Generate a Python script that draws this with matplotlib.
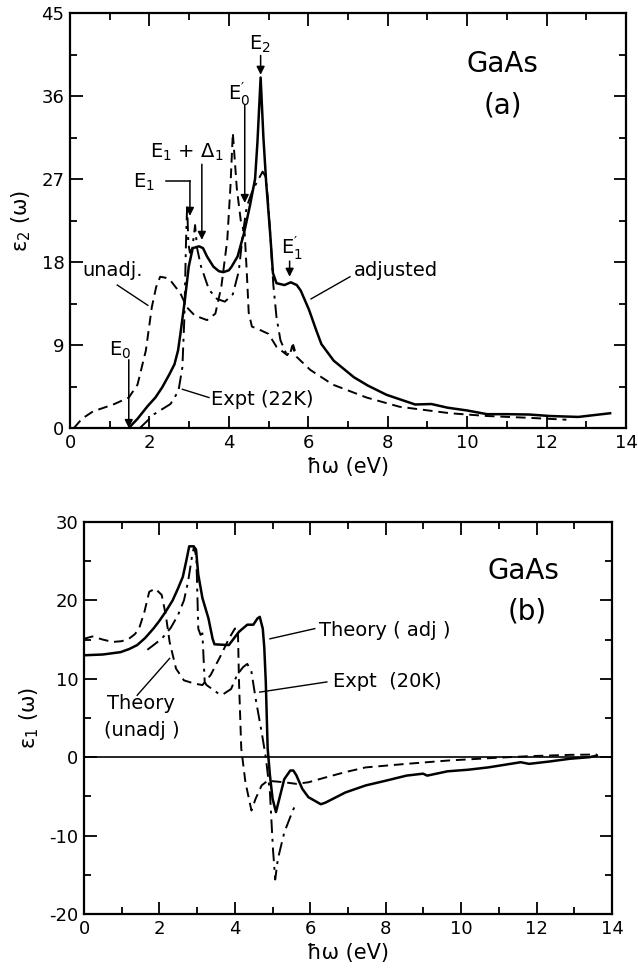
import matplotlib
matplotlib.use("Agg")
import matplotlib.pyplot as plt
from matplotlib.ticker import MultipleLocator

plt.rcParams['font.family'] = ['DejaVu Sans']
plt.rcParams['mathtext.default'] = 'regular'
plt.rcParams['axes.unicode_minus'] = False

# ---------------- Panel (a): eps2 ----------------
adj_x = [1.48, 1.70, 1.96, 2.15, 2.32, 2.50, 2.63, 2.72, 2.78, 2.89, 2.99, 3.09, 3.25, 3.35,
         3.45, 3.61, 3.75, 3.86, 4.00, 4.07, 4.22, 4.38, 4.53, 4.66, 4.72, 4.80, 4.87, 4.94,
         5.04, 5.11, 5.20, 5.40, 5.56, 5.71, 5.81, 6.02, 6.20, 6.33, 6.64, 7.15, 7.50, 7.97,
         8.69, 9.10, 9.51, 10.0, 10.5, 11.0, 11.57, 12.08, 12.8, 13.6]
adj_y = [0.0, 1.0, 2.4, 3.3, 4.4, 5.8, 6.9, 8.4, 10.2, 13.8, 17.5, 19.5, 19.7, 19.5,
         18.6, 17.5, 17.0, 16.9, 17.1, 17.5, 18.6, 21.1, 24.1, 27.0, 31.0, 38.0, 31.5, 26.6,
         21.1, 16.8, 15.7, 15.5, 15.8, 15.5, 14.9, 12.8, 10.6, 9.1, 7.3, 5.5, 4.6, 3.6,
         2.55, 2.6, 2.2, 1.9, 1.5, 1.5, 1.46, 1.3, 1.2, 1.6]

unadj_x = [0.10, 0.30, 0.58, 1.09, 1.48, 1.70, 1.91, 2.06, 2.17, 2.27, 2.40, 2.53, 2.78, 2.94,
           3.14, 3.45, 3.66, 3.81, 3.96, 4.04, 4.10, 4.20, 4.30, 4.40, 4.45, 4.50, 4.58, 4.80,
           5.00, 5.20, 5.47, 5.62, 5.71, 6.05, 6.62, 7.47, 8.30, 9.57, 10.5, 11.57, 12.5]
unadj_y = [0.0, 1.0, 1.8, 2.55, 3.3, 4.7, 8.4, 13.1, 15.3, 16.4, 16.3, 16.0, 14.6, 13.1,
           12.2, 11.7, 12.4, 15.3, 20.4, 26.2, 32.0, 26.0, 22.5, 21.0, 17.0, 12.5, 11.0, 10.6,
           10.2, 8.8, 7.9, 9.0, 7.7, 6.3, 4.7, 3.3, 2.3, 1.6, 1.3, 1.1, 0.9]

expt_a_x = [1.76, 2.12, 2.53, 2.73, 2.83, 2.88, 2.92, 2.95, 2.98, 3.02, 3.08, 3.15, 3.20, 3.30,
            3.50, 3.70, 3.90, 4.10, 4.25, 4.35, 4.45, 4.60, 4.75, 4.85, 4.92, 4.98, 5.05, 5.12,
            5.20, 5.30, 5.45, 5.55, 5.60, 5.65]
expt_a_y = [0.0, 1.5, 2.6, 4.0, 6.6, 12.0, 20.0, 24.2, 20.0, 19.0, 19.5, 22.0, 19.5, 17.5,
            15.0, 14.0, 13.7, 14.5, 17.0, 21.0, 24.0, 25.8, 27.0, 27.8, 27.3, 25.0, 20.5, 15.5,
            12.0, 9.5, 8.0, 8.2, 8.9, 8.3]

# ---------------- Panel (b): eps1 ----------------
adj1_x = [0.0, 0.50, 0.97, 1.20, 1.41, 1.62, 1.84, 2.00, 2.17, 2.35, 2.49, 2.62, 2.71, 2.79,
          2.90, 2.97, 3.03, 3.14, 3.30, 3.41, 3.46, 3.84, 4.11, 4.33, 4.49, 4.60, 4.66, 4.74,
          4.78, 4.82, 4.87, 4.93, 5.00, 5.09, 5.20, 5.31, 5.47, 5.55, 5.63, 5.79, 5.95, 6.28,
          6.40, 6.93, 7.47, 8.00, 8.55, 8.99, 9.10, 9.64, 10.18, 10.72, 11.58, 11.80, 12.34,
          12.88, 13.40, 13.60]
adj1_y = [13.0, 13.1, 13.4, 13.8, 14.3, 15.2, 16.4, 17.4, 18.6, 20.0, 21.5, 23.0, 25.0, 26.9,
          26.9, 26.5, 23.3, 20.3, 17.7, 15.1, 14.4, 14.3, 16.0, 16.9, 16.9, 17.7, 17.9, 16.4,
          14.0, 9.6, 1.1, -2.3, -5.3, -7.0, -4.9, -2.8, -1.7, -1.7, -2.3, -4.05, -5.1, -6.0,
          -5.8, -4.5, -3.6, -3.0, -2.35, -2.1, -2.35, -1.8, -1.6, -1.3, -0.64, -0.85, -0.55,
          -0.2, 0.0, 0.2]

unadj1_x = [0.0, 0.22, 0.50, 0.76, 1.00, 1.19, 1.35, 1.46, 1.60, 1.73, 1.89, 2.06, 2.17, 2.27,
            2.44, 2.65, 2.92, 3.14, 3.36, 3.63, 3.84, 4.00, 4.08, 4.11, 4.17, 4.28, 4.44, 4.55,
            4.71, 4.87, 5.31, 5.63, 5.95, 6.39, 6.93, 7.47, 8.55, 9.64, 10.72, 11.80, 12.88,
            13.60]
unadj1_y = [15.1, 15.4, 15.0, 14.7, 14.8, 15.1, 15.7, 16.4, 18.5, 21.1, 21.5, 20.7, 18.1, 14.7,
            11.3, 9.8, 9.4, 9.2, 10.5, 13.0, 15.1, 16.4, 16.4, 9.6, 1.1, -3.2, -6.8, -5.3,
            -3.6, -3.0, -3.2, -3.4, -3.2, -2.6, -1.9, -1.3, -0.85, -0.43, -0.13, 0.13, 0.3,
            0.34]

expt1_x = [1.68, 2.06, 2.30, 2.49, 2.65, 2.76, 2.87, 2.92, 2.98, 3.03, 3.09, 3.14, 3.20, 3.25,
           3.57, 3.68, 3.90, 4.06, 4.22, 4.33, 4.44, 4.55, 4.71, 4.82, 4.93, 5.01, 5.07, 5.14,
           5.31, 5.52, 5.63]
expt1_y = [13.7, 15.1, 16.5, 18.1, 20.0, 22.4, 25.8, 26.9, 25.4, 16.4, 15.6, 15.8, 9.6, 9.2,
           8.1, 8.0, 8.7, 10.5, 11.5, 11.9, 10.9, 7.5, 3.2, 0.0, -4.5, -11.7, -15.6, -13.0,
           -9.6, -7.0, -5.8]

x_ticks = [0, 2, 4, 6, 8, 10, 12, 14]
ya_ticks = [0, 9, 18, 27, 36, 45]
yb_ticks = [-20, -10, 0, 10, 20, 30]

fig = plt.figure(figsize=(6.38, 9.69), dpi=100)
axa = fig.add_axes([70/638, 1-428/969, 556/638, 415/969])
axb = fig.add_axes([84/638, 1-914/969, 528/638, 392/969])

dash = (0, (5, 3))
dashdot = (0, (7, 3, 1.5, 3))
k = 'black'

axa.plot(adj_x, adj_y, color=k, lw=1.8, solid_joinstyle='round')
axa.plot(unadj_x, unadj_y, color=k, lw=1.4, linestyle=dash)
axa.plot(expt_a_x, expt_a_y, color=k, lw=1.4, linestyle=dashdot)

axb.plot(adj1_x, adj1_y, color=k, lw=1.8, solid_joinstyle='round')
axb.plot(unadj1_x, unadj1_y, color=k, lw=1.4, linestyle=dash)
axb.plot(expt1_x, expt1_y, color=k, lw=1.4, linestyle=dashdot)
axb.axhline(0, color=k, lw=1.2)

for ax, yt, ylim, minor in [(axa, ya_ticks, (0, 45), 4.5), (axb, yb_ticks, (-20, 30), 5)]:
    ax.set_xlim(0, 14)
    ax.set_ylim(*ylim)
    ax.set_xticks(x_ticks)
    ax.set_yticks(yt)
    ax.xaxis.set_minor_locator(MultipleLocator(1))
    ax.yaxis.set_minor_locator(MultipleLocator(minor))
    ax.tick_params(which='both', direction='in', top=True, right=True, width=1.3,
                   labelsize=13, pad=4)
    ax.tick_params(which='major', length=9)
    ax.tick_params(which='minor', length=5)
    for s in ax.spines.values():
        s.set_linewidth(1.6)
    ax.set_xlabel('ħω (eV)', fontsize=15, labelpad=4)

axa.set_ylabel('ε$_2$ (ω)', fontsize=15, labelpad=6)
axb.set_ylabel('ε$_1$ (ω)', fontsize=15, labelpad=6)

# ---- Panel (a) annotations ----
fs = 14
axa.text(10.9, 39.5, 'GaAs', fontsize=20, ha='center', va='center')
axa.text(10.9, 35.0, '(a)', fontsize=20, ha='center', va='center')

arrowp = dict(arrowstyle='-|>', color=k, lw=1.1, mutation_scale=12, shrinkA=0, shrinkB=0)
axa.text(4.79, 41.6, 'E$_2$', fontsize=fs, ha='center', va='center')
axa.annotate('', xy=(4.80, 38.3), xytext=(4.80, 40.4), arrowprops=arrowp)
axa.text(4.25, 36.2, "E$_0'$", fontsize=fs, ha='center', va='center')
axa.annotate('', xy=(4.40, 24.4), xytext=(4.40, 35.0), arrowprops=arrowp)
axa.text(2.95, 29.9, 'E$_1$ + Δ$_1$', fontsize=fs, ha='center', va='center')
axa.annotate('', xy=(3.32, 20.4), xytext=(3.32, 28.6), arrowprops=arrowp)
axa.text(1.86, 26.6, 'E$_1$', fontsize=fs, ha='center', va='center')
axa.plot([2.42, 3.02], [26.8, 26.8], color=k, lw=1.1)
axa.annotate('', xy=(3.02, 23.0), xytext=(3.02, 26.8), arrowprops=arrowp)
axa.text(5.58, 19.5, "E$_1'$", fontsize=fs, ha='center', va='center')
axa.annotate('', xy=(5.53, 16.4), xytext=(5.53, 18.1), arrowprops=arrowp)
axa.text(1.26, 8.4, 'E$_0$', fontsize=fs, ha='center', va='center')
axa.annotate('', xy=(1.48, 0.0), xytext=(1.48, 7.4), arrowprops=arrowp)

axa.text(0.32, 17.1, 'unadj.', fontsize=fs, ha='left', va='center')
axa.plot([1.19, 1.96], [15.5, 13.3], color=k, lw=1.0)
axa.text(7.15, 17.1, 'adjusted', fontsize=fs, ha='left', va='center')
axa.plot([7.05, 6.07], [16.4, 14.0], color=k, lw=1.0)
axa.text(3.55, 3.1, 'Expt (22K)', fontsize=fs, ha='left', va='center')
axa.plot([3.5, 2.83], [3.3, 4.2], color=k, lw=1.0)

# ---- Panel (b) annotations ----
axb.text(11.64, 23.7, 'GaAs', fontsize=20, ha='center', va='center')
axb.text(11.75, 18.6, '(b)', fontsize=20, ha='center', va='center')
axb.text(6.23, 16.2, 'Theory ( adj )', fontsize=fs, ha='left', va='center')
axb.plot([6.12, 4.93], [16.4, 15.1], color=k, lw=1.0)
axb.text(6.6, 9.6, 'Expt  (20K)', fontsize=fs, ha='left', va='center')
axb.plot([6.44, 4.66], [9.6, 8.3], color=k, lw=1.0)
axb.text(1.52, 6.8, 'Theory', fontsize=fs, ha='center', va='center')
axb.text(1.52, 3.4, '(unadj )', fontsize=fs, ha='center', va='center')
axb.plot([1.41, 2.27], [7.9, 12.6], color=k, lw=1.0)

fig.savefig('out.png', dpi=100)
